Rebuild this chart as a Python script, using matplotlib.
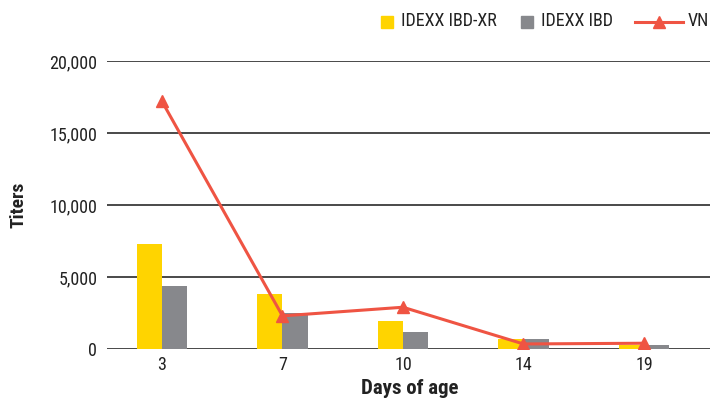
import matplotlib
matplotlib.use("Agg")
import matplotlib.pyplot as plt
import numpy as np
from matplotlib import font_manager
from matplotlib.patches import Rectangle
from matplotlib.lines import Line2D

names = {f.name for f in font_manager.fontManager.ttflist}
fam = "DejaVu Sans"
for cand in ["Roboto Condensed", "Archivo Narrow", "PT Sans Narrow", "Liberation Sans Narrow", "Liberation Sans"]:
    if cand in names:
        fam = cand
        break
plt.rcParams['font.family'] = [fam, 'DejaVu Sans']

days = ["3", "7", "10", "14", "19"]
ibd_xr = [7300, 3800, 1950, 700, 280]
ibd = [4400, 2500, 1200, 700, 280]
vn = [17200, 2300, 2900, 350, 400]
yticks = [0, 5000, 10000, 15000, 20000]
ytick_labels = ["0", "5,000", "10,000", "15,000", "20,000"]
series_names = ["IDEXX IBD-XR", "IDEXX IBD", "VN"]

YELLOW = "#FFD400"
GRAY = "#87888C"
RED = "#EF5443"
TXT = "#222222"

W, H = 710, 400
fig = plt.figure(figsize=(W/100, H/100), dpi=100)
ax = fig.add_axes([107/W, 1 - 349/H, (W-107)/W, (349-61)/H])

x = np.arange(len(days))
w = 0.21
ax.bar(x - w/2, ibd_xr, width=w, color=YELLOW, zorder=2)
ax.bar(x + w/2, ibd, width=w, color=GRAY, zorder=2)
ax.plot(x, vn, color=RED, lw=2.2, marker="^", ms=8, zorder=3)

ax.set_xlim(-0.456, 4.548)
ax.set_ylim(0, 20000)
ax.set_yticks(yticks)
ax.set_yticklabels(ytick_labels)
ax.set_xticks(x)
ax.set_xticklabels(days)
ax.tick_params(axis='both', length=0, labelsize=13, colors=TXT)
ax.tick_params(axis='y', pad=7)
ax.tick_params(axis='x', pad=5)
for s in ax.spines.values():
    s.set_visible(False)
ax.grid(axis='y', color="#2a2a2a", lw=1.2, zorder=1)
ax.set_axisbelow(True)

fig.text(18/W, 1 - 205/H, "Titers", rotation=90, ha='center', va='center',
         fontsize=14, fontweight='bold', color=TXT)
fig.text(410/W, 1 - 389/H, "Days of age", ha='center', va='center',
         fontsize=15, fontweight='bold', color=TXT)

# legend (manual, in pixel positions)
def fx(px):
    return px / W
def fy(py):
    return 1 - py / H

fig.add_artist(Rectangle((fx(381), fy(28)), 12/W, 12/H, color=YELLOW, transform=fig.transFigure))
fig.text(fx(401), fy(21), series_names[0], ha='left', va='center', fontsize=13, color=TXT)
fig.add_artist(Rectangle((fx(521), fy(28)), 12/W, 12/H, color=GRAY, transform=fig.transFigure))
fig.text(fx(541), fy(21), series_names[1], ha='left', va='center', fontsize=13, color=TXT)
fig.add_artist(Line2D([fx(635), fx(683)], [fy(22), fy(22)], color=RED, lw=2.2,
                      transform=fig.transFigure))
fig.add_artist(Line2D([fx(659)], [fy(22)], color=RED, marker="^", ms=8,
                      transform=fig.transFigure))
fig.text(fx(688), fy(21), series_names[2], ha='left', va='center', fontsize=13, color=TXT)

fig.savefig("out.png", dpi=100)
